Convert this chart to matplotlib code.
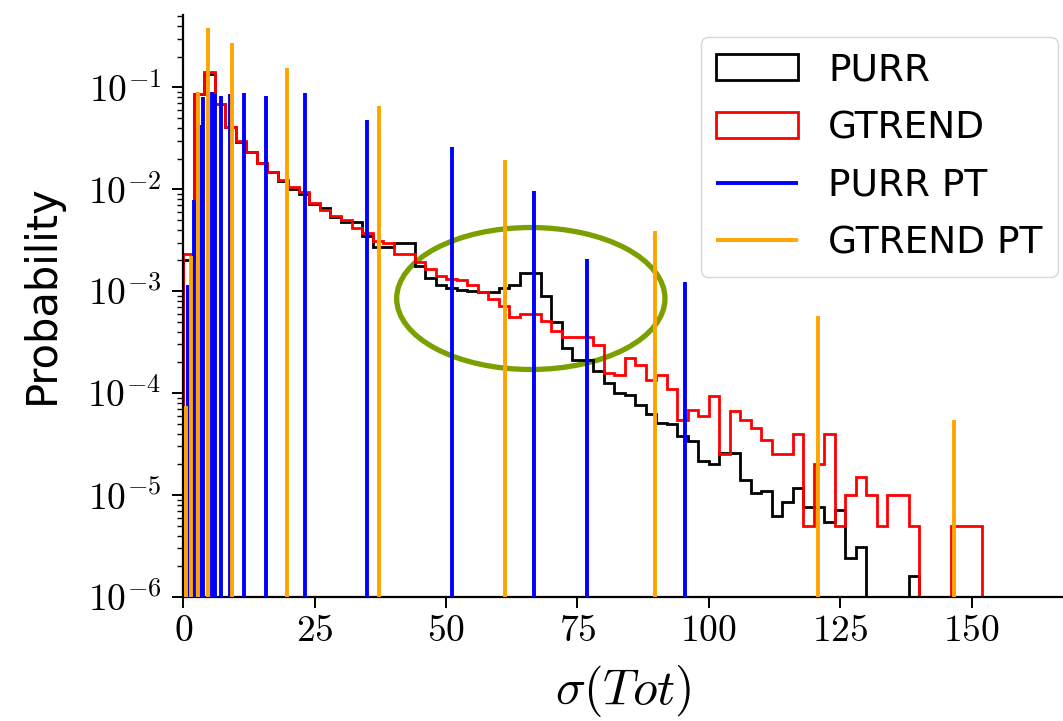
import numpy as np
import matplotlib
matplotlib.use("Agg")
import matplotlib.pyplot as plt
from matplotlib.patches import Ellipse
from matplotlib.ticker import FuncFormatter, NullFormatter

plt.rcParams["mathtext.fontset"] = "cm"
plt.rcParams["font.family"] = ["DejaVu Sans"]

# bin edges: width 2, from 0 to 152
bin_edges = np.arange(0, 154, 2)

# PURR histogram (probability per bin)
purr = [2.0e-3, 0.085, 0.135, 0.068, 0.041, 0.029, 0.023, 0.018, 0.0146, 0.012,
        0.0100, 0.0089, 0.0072, 0.0066, 0.0053, 0.0048, 0.0048, 0.0035, 0.0027, 0.0027,
        0.0030, 0.00295, 0.00176, 0.00135, 0.00116, 0.00108, 0.00102, 0.00100, 0.00098, 0.00098,
        0.00108, 0.00115, 0.0015, 0.00152, 0.00089, 0.00050, 0.00028, 0.000213, 0.000213, 0.000166,
        0.000125, 0.000100, 9.5e-5, 7.7e-5, 6.3e-5, 5.1e-5, 5.0e-5, 3.8e-5, 3.4e-5, 2.15e-5,
        2.0e-5, 2.6e-5, 2.6e-5, 1.41e-5, 1.05e-5, 1.09e-5, 6.3e-6, 8.6e-6, 1.18e-5, 7.7e-6,
        7.7e-6, 5.5e-6, 7.1e-6, 2.4e-6, 3.1e-6, 0, 0, 0, 0, 1.6e-6,
        0, 0, 0, 0, 0, 0]

# GTREND histogram
gtrend = [2.3e-3, 0.085, 0.14, 0.068, 0.041, 0.0294, 0.0230, 0.018, 0.0147, 0.0123,
          0.0104, 0.0093, 0.0074, 0.0062, 0.0055, 0.0050, 0.0042, 0.0037, 0.0031, 0.00295,
          0.0023, 0.0023, 0.00195, 0.00165, 0.0014, 0.00133, 0.00128, 0.00115, 0.00098, 0.00083,
          0.00072, 0.00056, 0.00060, 0.00060, 0.00051, 0.00041, 0.000355, 0.000355, 0.000355, 0.000295,
          0.000158, 0.000150, 0.00022, 0.00019, 0.000135, 0.00015, 0.00011, 5.5e-5, 6.9e-5, 5.9e-5,
          9.4e-5, 2.5e-5, 6.6e-5, 5.5e-5, 4.5e-5, 3.5e-5, 2.5e-5, 2.5e-5, 4.0e-5, 5.0e-6,
          2.0e-5, 4.0e-5, 5.0e-6, 1.0e-5, 1.5e-5, 1.0e-5, 5.0e-6, 1.0e-5, 1.0e-5, 5.0e-6,
          0, 0, 0, 5.0e-6, 5.0e-6, 5.0e-6]

# PT positions and heights
purr_pt_x = [0.85, 2.1, 3.35, 3.8, 5.4, 6.0, 7.2, 8.8, 11.6, 15.7, 23.1, 34.9, 51.1, 66.8, 76.9, 95.5]
purr_pt_y = [1.15e-3, 7.8e-3, 0.043, 0.080, 0.089, 0.085, 0.083, 0.085, 0.087, 0.083,
             0.087, 0.048, 0.026, 0.0095, 0.00205, 0.00123]
gtrend_pt_x = [0.5, 1.4, 2.7, 4.78, 9.35, 19.8, 37.2, 61.2, 89.8, 120.7, 146.7]
gtrend_pt_y = [7.5e-5, 2.2e-3, 0.089, 0.38, 0.27, 0.155, 0.066, 0.0194, 0.0039, 5.7e-4, 5.4e-5]

ymin, ymax = 1e-6, 0.51

fig = plt.figure(figsize=(10.63, 7.21), dpi=100)
ax = fig.add_axes([0.1725, 0.172, 0.8275, 0.807])

# annotation ellipse (behind the data)
ell = Ellipse((0.395, 0.513), 0.305, 0.244, transform=ax.transAxes,
              fill=False, edgecolor="#7aa000", lw=3.8, zorder=1)
ax.add_patch(ell)

_, _, p1 = ax.hist(bin_edges[:-1], bins=bin_edges, weights=purr, histtype="step",
                   color="black", lw=2.0, label="PURR", zorder=2)
_, _, p2 = ax.hist(bin_edges[:-1], bins=bin_edges, weights=gtrend, histtype="step",
                   color="red", lw=2.0, label="GTREND", zorder=2)
l1 = ax.vlines(purr_pt_x, ymin, purr_pt_y, colors="blue", lw=2.8, label="PURR PT", zorder=3)
l2 = ax.vlines(gtrend_pt_x, ymin, gtrend_pt_y, colors="orange", lw=2.8, label="GTREND PT", zorder=3)

ax.set_yscale("log")
ax.set_ylim(ymin, ymax)
ax.set_xlim(0, 167.4)
ax.set_xticks([0, 25, 50, 75, 100, 125, 150])
ax.xaxis.set_major_formatter(FuncFormatter(lambda v, pos: "$%d$" % v))
ax.yaxis.set_major_formatter(FuncFormatter(lambda v, pos: "$10^{%d}$" % round(np.log10(v))))
ax.yaxis.set_minor_formatter(NullFormatter())

ax.spines["top"].set_visible(False)
ax.spines["right"].set_visible(False)
for s in ["left", "bottom"]:
    ax.spines[s].set_linewidth(1.6)
ax.tick_params(which="major", length=8, width=1.4, labelsize=27)
ax.tick_params(which="minor", length=4, width=1.0)
ax.tick_params(axis="y", which="major", pad=8)
ax.tick_params(axis="x", which="minor", bottom=False)

ax.set_xlabel(r"$\sigma(Tot)$", fontsize=36, labelpad=10)
ax.set_ylabel("Probability", fontsize=30)
ax.yaxis.set_label_coords(-0.137, 0.52)

ax.legend(handles=[p1[0], p2[0], l1, l2], fontsize=27, loc="upper right",
          bbox_to_anchor=(0.994, 0.962), borderaxespad=0, handlelength=2.2,
          handletextpad=0.8, labelspacing=0.58)

fig.savefig("out.png", dpi=100)
